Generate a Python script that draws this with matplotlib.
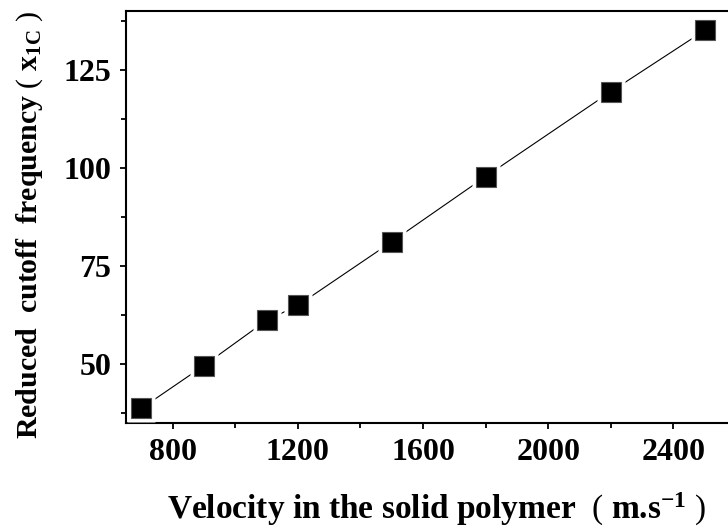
import matplotlib
matplotlib.use("Agg")
import matplotlib.pyplot as plt
from matplotlib.ticker import MultipleLocator

# Sound velocity in the solid polymer (m/s) and reduced cutoff frequency x_1C
velocity = [700, 900, 1100, 1200, 1500, 1800, 2200, 2500]
cutoff = [38.8, 49.7, 61.2, 65.0, 81.2, 97.8, 119.4, 135.0]

x_ticks = [800, 1200, 1600, 2000, 2400]
y_ticks = [50, 75, 100, 125]

plt.rcParams["font.family"] = ["Liberation Serif", "DejaVu Serif"]
plt.rcParams["mathtext.fontset"] = "custom"
plt.rcParams["mathtext.rm"] = "Liberation Serif:weight=normal"
plt.rcParams["mathtext.bf"] = "Liberation Serif:weight=bold"
plt.rcParams["mathtext.it"] = "Liberation Serif:style=italic"

fig = plt.figure(figsize=(7.28, 5.30), dpi=100)
ax = fig.add_axes([0.1727, 0.2013, 0.8383, 0.7785])

# connecting line, with a white halo around each marker to open a small gap
ax.plot(velocity, cutoff, color="black", lw=0.8, zorder=2)
ax.plot(velocity, cutoff, ls="none", marker="s", ms=19.5, mfc="white",
        mec="none", zorder=3)
ax.plot(velocity, cutoff, ls="none", marker="s", ms=14, mfc="black",
        mec="#555555", mew=0.8, zorder=4)

ax.set_xlim(650, 2600)
ax.set_ylim(35, 140)
ax.set_xticks(x_ticks)
ax.set_yticks(y_ticks)
ax.xaxis.set_minor_locator(MultipleLocator(200))
ax.yaxis.set_minor_locator(MultipleLocator(12.5))

for s in ax.spines.values():
    s.set_linewidth(1.5)
ax.tick_params(which="major", direction="out", length=4.5, width=1.3,
               labelsize=23, pad=6)
ax.tick_params(which="minor", direction="out", length=3.5, width=1.3)
for lab in ax.get_xticklabels() + ax.get_yticklabels():
    lab.set_fontweight("bold")

ax.set_xlabel(r"Velocity in the solid polymer  $\mathrm{(}$ m.s$^{\mathbf{-1}}$ $\mathrm{)}$",
              fontsize=24, fontweight="bold")
ax.set_ylabel(r"Reduced  cutoff  frequency $\mathrm{(}$ x$_{\mathbf{1C}}$ $\mathrm{)}$",
              fontsize=21.5, fontweight="bold")
ax.xaxis.label.set_verticalalignment("center")
ax.yaxis.label.set_verticalalignment("center")
ax.xaxis.set_label_coords(0.51, -0.21)
ax.yaxis.set_label_coords(-0.158, 0.48)

fig.savefig("out.png", dpi=100)
